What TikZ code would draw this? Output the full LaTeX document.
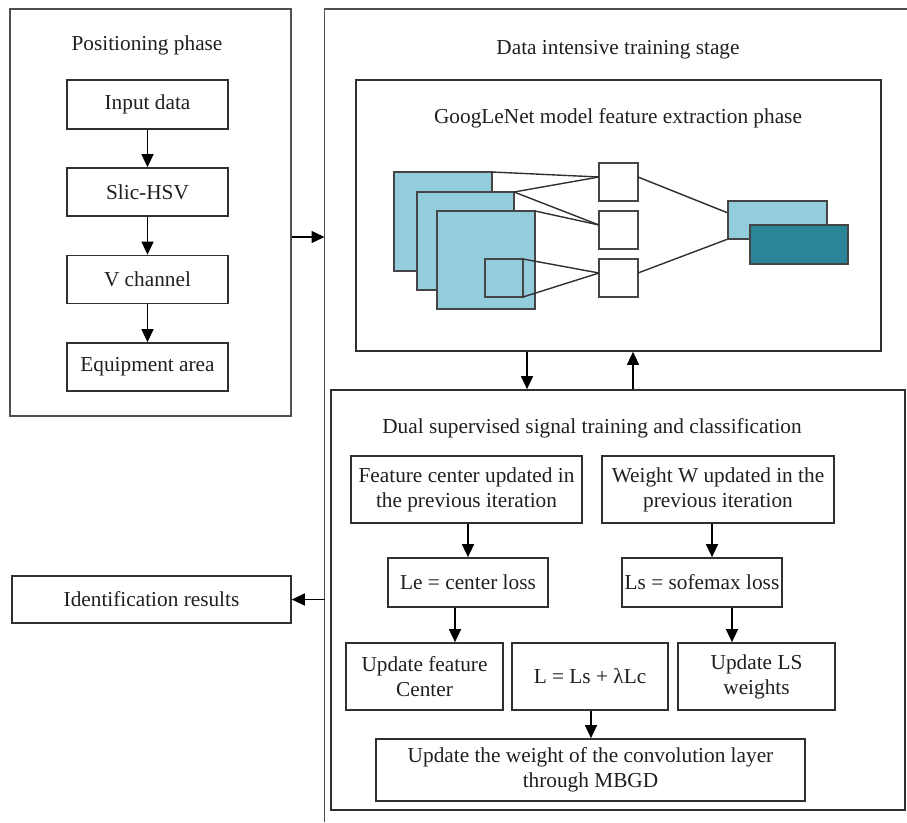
\documentclass[tikz,border=0pt]{standalone}
\usepackage{fontspec}
\setmainfont{Liberation Serif}
\usetikzlibrary{arrows.meta,calc}
\definecolor{lightb}{HTML}{93CDDC}
\definecolor{darkb}{HTML}{2B8598}
\definecolor{frame}{HTML}{505050}
\definecolor{edge}{HTML}{303030}
\begin{document}
\begin{tikzpicture}[x=1pt,y=-1pt,
  every node/.style={font=\fontsize{21.3}{25}\selectfont, text=black!88},
  box/.style={draw=edge, line width=1.7pt, align=center, inner sep=0pt},
  frm/.style={draw=frame, line width=1.9pt, inner sep=0pt},
  arr/.style={draw=black, line width=1.4pt, -{Triangle[length=13pt,width=12pt]}},
  lnk/.style={draw=edge, line width=1.4pt},
  fm/.style={draw=edge!90, line width=1.7pt, fill=lightb},
  sq/.style={draw=edge!90, line width=1.7pt, fill=white}
]
\useasboundingbox (0,0) rectangle (907,822);

% Left frame
\node[frm, minimum width=281pt, minimum height=407pt] (posframe) at (150.5,212.5) {};
\node (postitle) at (147,45) {Positioning phase};
\node[box, minimum width=161pt, minimum height=49pt] (inp) at (147.5,104.5) {Input data};
\node[box, minimum width=161pt, minimum height=48pt] (slic) at (147.5,192) {Slic-HSV};
\node[box, minimum width=161pt, minimum height=48pt] (vch) at (147.5,279.5) {V channel};
\node[box, minimum width=161pt, minimum height=48pt] (equ) at (147.5,367) {Equipment area};
\draw[arr] (inp) -- (slic);
\draw[arr] (slic) -- (vch);
\draw[arr] (vch) -- (equ);

% Outer right frame (open)
\coordinate (otr) at (907,9);
\coordinate (otl) at (324.5,9);
\coordinate (obl) at (324.5,822);
\draw[frame, line width=1.9pt] (otr) -- (otl) -- (obl);
\node (datatitle) at (618,50) {Data intensive training stage};
\coordinate (inarr) at (324.5,237);
\draw[arr] (posframe.east |- inarr) -- (inarr);

% GoogLeNet box
\node[box, minimum width=525pt, minimum height=271pt] (goog) at (618.5,215.5) {};
\node (googtitle) at (618,118) {GoogLeNet model feature extraction phase};

% feature maps
\draw[fm] (394,172) rectangle (492,271);
\draw[fm] (417,192) rectangle (514,290);
\draw[fm] (437,211) rectangle (535,309);
\draw[fm] (485,259) rectangle (523,297);
\node[sq, minimum width=39pt, minimum height=38pt] (s1) at (618.5,182) {};
\node[sq, minimum width=39pt, minimum height=38pt] (s2) at (618.5,230) {};
\node[sq, minimum width=39pt, minimum height=38pt] (s3) at (618.5,278) {};
\draw[lnk] (492,172) -- (599,177);
\draw[lnk] (514,192) -- (599,177);
\draw[lnk] (514,192) -- (599,225);
\draw[lnk] (535,211) -- (599,225);
\draw[lnk] (523,259) -- (599,273);
\draw[lnk] (523,297) -- (599,273);
\draw[lnk] (638,177) -- (728,213);
\draw[lnk] (638,273) -- (728,239);
\draw[fm] (728,201) rectangle (827,239);
\draw[fm, fill=darkb] (750,225) rectangle (848,264);

% Dual box
\node[box, minimum width=574pt, minimum height=420pt] (dual) at (618,600) {};
\coordinate (ad) at (527,0);
\coordinate (au) at (633,0);
\draw[arr] (goog.south -| ad) -- (dual.north -| ad);
\draw[arr] (dual.north -| au) -- (goog.south -| au);
\node (dualtitle) at (592,428) {Dual supervised signal training and classification};

\node[box, minimum width=231pt, minimum height=67pt] (fc) at (466.5,489.5) {Feature center updated in\\the previous iteration};
\node[box, minimum width=232pt, minimum height=67pt] (ww) at (718,489.5) {Weight W updated in the\\previous iteration};
\node[box, minimum width=160pt, minimum height=49pt] (le) at (468,582.5) {Le = center loss};
\node[box, minimum width=160pt, minimum height=49pt] (ls) at (702,582.5) {Ls = sofemax loss};
\node[box, minimum width=157pt, minimum height=67pt] (uf) at (424.5,676.5) {Update feature\\Center};
\node[box, minimum width=156pt, minimum height=67pt] (lsum) at (590,676.5) {L = Ls + λLc};
\node[box, minimum width=157pt, minimum height=67pt] (ulw) at (756.5,676.5) {Update LS\\weights};
\node[box, minimum width=429pt, minimum height=62pt] (mbgd) at (590.5,770) {Update the weight of the convolution layer\\through MBGD};

\coordinate (x1) at (468,0);
\coordinate (x2) at (455,0);
\coordinate (x3) at (712,0);
\coordinate (x4) at (732,0);
\coordinate (x5) at (591,0);
\draw[arr] (fc.south -| x1) -- (le.north -| x1);
\draw[arr] (le.south -| x2) -- (uf.north -| x2);
\draw[arr] (ww.south -| x3) -- (ls.north -| x3);
\draw[arr] (ls.south -| x4) -- (ulw.north -| x4);
\draw[arr] (lsum.south -| x5) -- (mbgd.north -| x5);

% Identification results
\node[box, minimum width=279pt, minimum height=47pt] (idr) at (151.5,599.5) {Identification results};
\coordinate (outarr) at (324.5,599.5);
\draw[arr] (outarr) -- (idr.east);
\end{tikzpicture}
\end{document}
